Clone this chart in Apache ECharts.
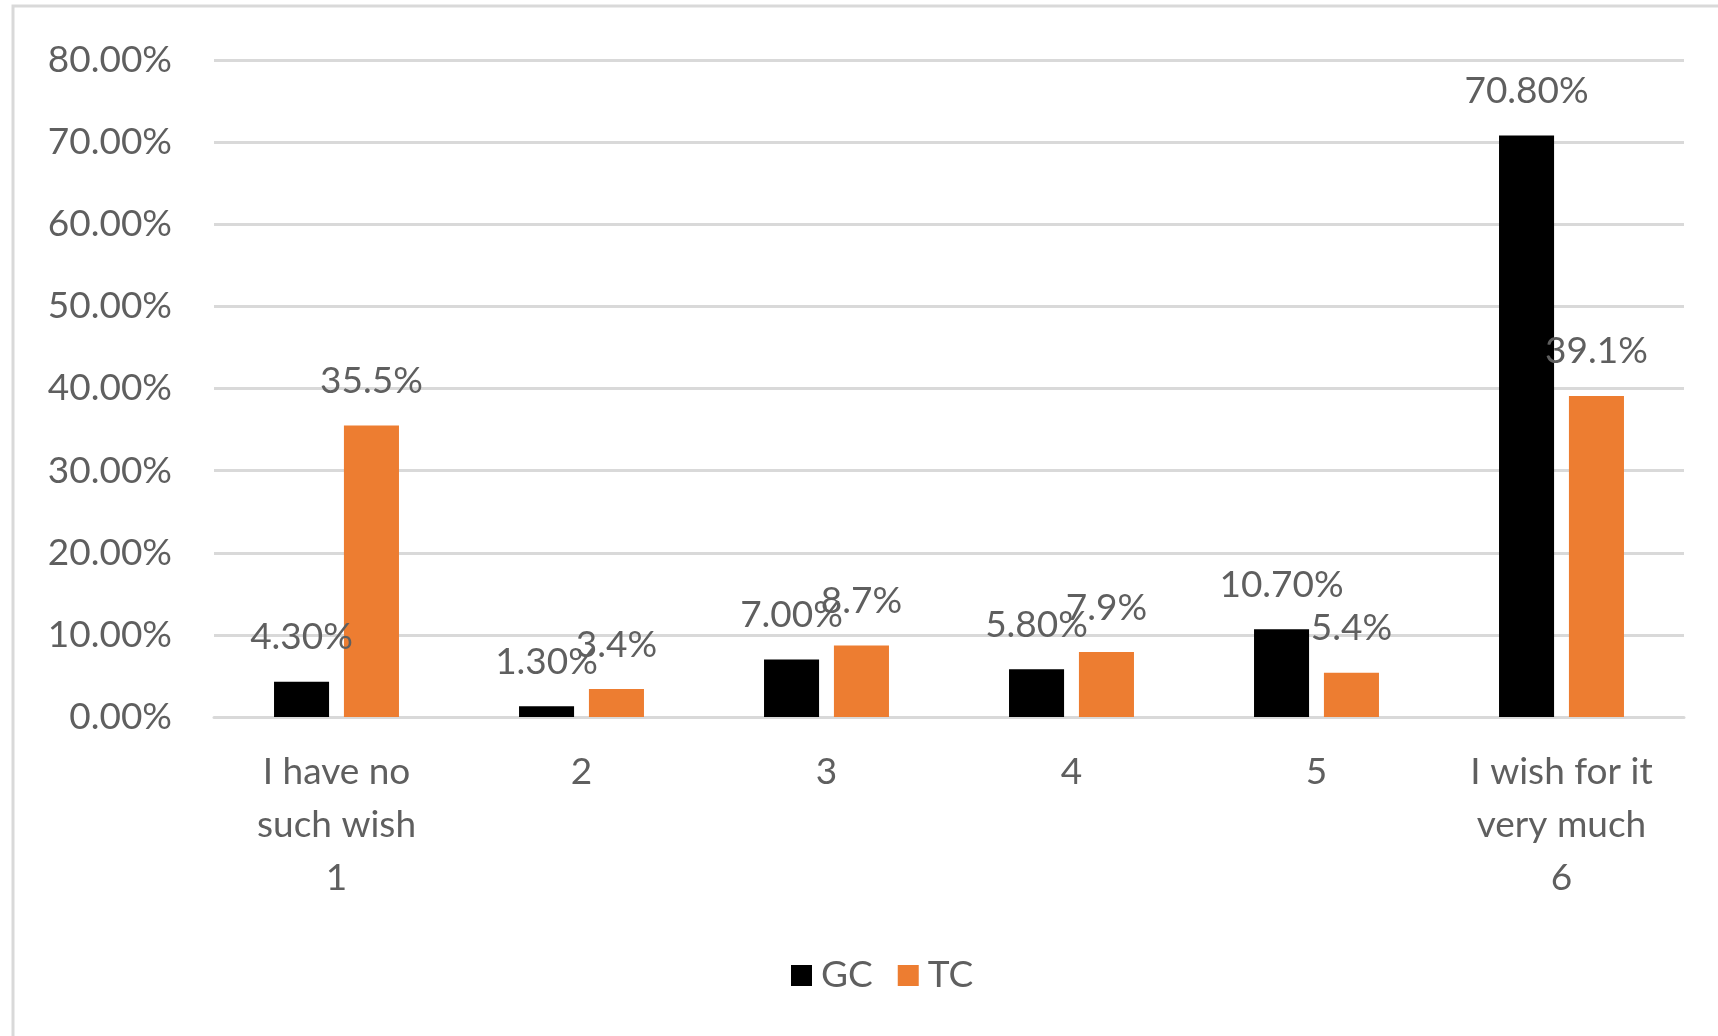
<!DOCTYPE html>
<html>
<head>
<meta charset="utf-8">
<script src="https://cdn.jsdelivr.net/npm/echarts@6/dist/echarts.min.js"></script>
<style>
html,body{margin:0;padding:0;background:#fff;}
#chart{width:1718px;height:1036px;}
</style>
</head>
<body>
<div id="chart"></div>
<script>
const categories = ['I have no\nsuch wish\n1', '2', '3', '4', '5', 'I wish for it\nvery much\n6'];
const seriesNames = ['GC', 'TC'];
const gcValues = [4.3, 1.3, 7.0, 5.8, 10.7, 70.8];
const tcValues = [35.5, 3.4, 8.7, 7.9, 5.4, 39.1];
const yTicks = [0, 10, 20, 30, 40, 50, 60, 70, 80];

const FONT = 'Lato';
const TXT = '#5f5f5f';
const FW = 400;
const chart = echarts.init(document.getElementById('chart'), null, {renderer: 'canvas'});
chart.setOption({
  backgroundColor: '#ffffff',
  animation: false,
  graphic: [{
    type: 'rect',
    shape: {x: 13, y: 6, width: 1760, height: 1100},
    style: {fill: 'none', stroke: '#d9d9d9', lineWidth: 3},
    silent: true
  }],
  grid: {left: 214, right: 34, top: 60, bottom: 319, containLabel: false},
  legend: {
    data: seriesNames,
    left: 786,
    top: 952,
    itemWidth: 21,
    itemHeight: 21,
    itemGap: 25,
    icon: 'rect',
    textStyle: {fontFamily: FONT, fontSize: 37, fontWeight: FW, color: TXT, padding: [0, 0, 0, 4]}
  },
  xAxis: {
    type: 'category',
    data: categories,
    axisLine: {show: true, lineStyle: {color: '#d9d9d9', width: 3}},
    axisTick: {show: false},
    axisLabel: {fontFamily: FONT, fontSize: 37, fontWeight: FW, color: TXT, lineHeight: 53, margin: 29, interval: 0, align: 'center'}
  },
  yAxis: {
    type: 'value',
    min: yTicks[0],
    max: yTicks[yTicks.length - 1],
    interval: yTicks[1] - yTicks[0],
    axisLine: {show: false},
    axisTick: {show: false},
    splitLine: {lineStyle: {color: '#d9d9d9', width: 3}},
    axisLabel: {fontFamily: FONT, fontSize: 37, fontWeight: FW, color: TXT, margin: 42, formatter: v => v.toFixed(2) + '%'}
  },
  series: [
    {
      name: seriesNames[0], type: 'bar', data: gcValues,
      itemStyle: {color: '#000000'},
      barGap: '27%', barCategoryGap: '49%',
      label: {show: true, position: 'top', distance: 26, fontFamily: FONT, fontSize: 37, fontWeight: FW, color: TXT,
        formatter: p => p.value.toFixed(2) + '%'}
    },
    {
      name: seriesNames[1], type: 'bar', data: tcValues,
      itemStyle: {color: '#ED7D31'},
      barGap: '27%', barCategoryGap: '49%',
      label: {show: true, position: 'top', distance: 26, fontFamily: FONT, fontSize: 37, fontWeight: FW, color: TXT,
        formatter: p => p.value.toFixed(1) + '%'}
    }
  ]
});
</script>
</body>
</html>
